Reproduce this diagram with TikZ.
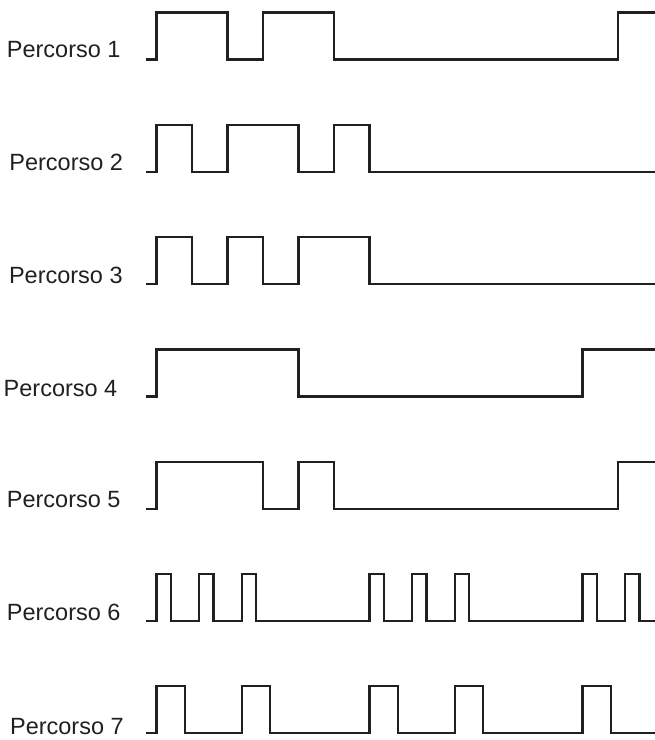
\documentclass[tikz,border=0pt]{standalone}
\usepackage{fontspec}
\setmainfont{Liberation Sans}
\usepackage{tikz}
\definecolor{ink}{HTML}{231F20}

\begin{document}
\begin{tikzpicture}[x=35.5pt, y=47pt,
  wave/.style={draw=ink, line width=2.3pt, line join=miter},
  lbl/.style={anchor=base east, inner sep=0pt, text=ink,
              font=\fontsize{23.5}{23.5}\selectfont}]
\useasboundingbox (-156.6pt,59.5pt) rectangle (498.4pt,-680.5pt);
% row 1
\begin{scope}[yshift=0pt]
\node[lbl] (p1) at (-1.01,0.05) {Percorso 1};
\draw[wave] (-0.3,0) -| (0,1) -| (2,0) -| (3,1) -| (5,0) -| (13,1) -- (14.04,1);
\end{scope}
% row 2
\begin{scope}[yshift=-112.3pt]
\node[lbl] (p2) at (-0.94,0.02) {Percorso 2};
\draw[wave] (-0.3,0) -| (0,1) -| (1,0) -| (2,1) -| (4,0) -| (5,1) -| (6,0) -- (14.04,0);
\end{scope}
% row 3
\begin{scope}[yshift=-224.6pt]
\node[lbl] (p3) at (-0.95,0.02) {Percorso 3};
\draw[wave] (-0.3,0) -| (0,1) -| (1,0) -| (2,1) -| (3,0) -| (4,1) -| (6,0) -- (14.04,0);
\end{scope}
% row 4
\begin{scope}[yshift=-336.9pt]
\node[lbl] (p4) at (-1.10,0) {Percorso 4};
\draw[wave] (-0.3,0) -| (0,1) -| (4,0) -| (12,1) -- (14.04,1);
\end{scope}
% row 5
\begin{scope}[yshift=-449.2pt]
\node[lbl] (p5) at (-1.01,0.02) {Percorso 5};
\draw[wave] (-0.3,0) -| (0,1) -| (3,0) -| (4,1) -| (5,0) -| (13,1) -- (14.04,1);
\end{scope}
% row 6
\begin{scope}[yshift=-561.5pt]
\node[lbl] (p6) at (-1.01,0.02) {Percorso 6};
\draw[wave] (-0.3,0)
  -| (0,1) -| (0.4,0) -| (1.2,1) -| (1.6,0) -| (2.4,1) -| (2.8,0)
  -| (6,1) -| (6.4,0) -| (7.2,1) -| (7.6,0) -| (8.4,1) -| (8.8,0)
  -| (12,1) -| (12.4,0) -| (13.2,1) -| (13.6,0) -- (14.04,0);
\end{scope}
% row 7
\begin{scope}[yshift=-673.8pt]
\node[lbl] (p7) at (-0.92,-0.02) {Percorso 7};
\draw[wave] (-0.3,0)
  -| (0,1) -| (0.8,0) -| (2.4,1) -| (3.2,0)
  -| (6,1) -| (6.8,0) -| (8.4,1) -| (9.2,0)
  -| (12,1) -| (12.8,0) -- (14.04,0);
\end{scope}
\end{tikzpicture}
\end{document}
